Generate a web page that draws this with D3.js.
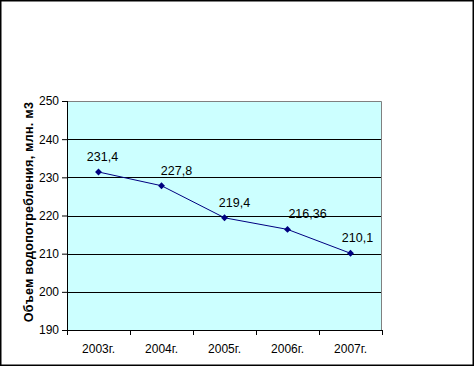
<!DOCTYPE html>
<html>
<head>
<meta charset="utf-8">
<script src="https://cdn.jsdelivr.net/npm/d3@7"></script>
<style>
  body { margin: 0; background: #fff; }
  text { font-family: "Liberation Sans", Arial, sans-serif; }
</style>
</head>
<body>
<div id="chart"></div>
<script>
// data
const years = ["2003г.", "2004г.", "2005г.", "2006г.", "2007г."];
const values = [231.4, 227.8, 219.4, 216.36, 210.1];
const valueLabels = ["231,4", "227,8", "219,4", "216,36", "210,1"];
const yTicks = [190, 200, 210, 220, 230, 240, 250];
// label nudges as placed in the original
const labelDx = [4, 15, 10, 20, 7];

const svgWidth = 474;
const svgHeight = 366;

const margin = { top: 101, right: 92, bottom: 36, left: 67 };
const width = svgWidth - margin.left - margin.right;
const height = svgHeight - margin.top - margin.bottom;

const svg = d3.select("#chart")
  .append("svg")
  .attr("width", svgWidth)
  .attr("height", svgHeight);

// outer frame
svg.append("rect")
  .attr("x", 0.75).attr("y", 0.75)
  .attr("width", svgWidth - 1.5).attr("height", svgHeight - 1.5)
  .attr("fill", "#fff")
  .attr("stroke", "#000")
  .attr("stroke-width", 1.5);

const chartGroup = svg.append("g")
  .attr("transform", `translate(${margin.left}, ${margin.top})`);

const xScale = d3.scaleBand()
  .domain(years)
  .range([0, width]);

const yScale = d3.scaleLinear()
  .domain([190, 250])
  .range([height, 0]);

// plot area
chartGroup.append("rect")
  .attr("width", width)
  .attr("height", height)
  .attr("fill", "#ccffff");

// gridlines
chartGroup.selectAll(".grid")
  .data(yTicks.slice(1, -1))
  .enter()
  .append("line")
  .attr("x1", 0).attr("x2", width)
  .attr("y1", d => Math.round(yScale(d)) + 0.5)
  .attr("y2", d => Math.round(yScale(d)) + 0.5)
  .attr("stroke", "#000")
  .attr("stroke-width", 1);

// top and right border in gray
chartGroup.append("path")
  .attr("d", `M0,0.5H${width - 0.5}V${height}`)
  .attr("fill", "none")
  .attr("stroke", "#808080")
  .attr("stroke-width", 1);

// axes
const leftAxis = d3.axisLeft(yScale)
  .tickValues(yTicks)
  .tickSize(5)
  .tickPadding(3);

const yAxisG = chartGroup.append("g").call(leftAxis);
yAxisG.select(".domain").attr("stroke", "#000").attr("d", `M0.5,0V${height}`);
yAxisG.selectAll("text").style("font-size", "12px").attr("fill", "#000");

const bottomAxis = d3.axisBottom(xScale).tickSize(0).tickPadding(14);
const xAxisG = chartGroup.append("g")
  .attr("transform", `translate(0, ${height})`)
  .call(bottomAxis);
xAxisG.select(".domain").attr("stroke", "#000");
xAxisG.selectAll("text").style("font-size", "12px").attr("fill", "#000");

// category boundary ticks
chartGroup.selectAll(".xtick")
  .data(years.concat([null]))
  .enter()
  .append("line")
  .attr("x1", (d, i) => Math.round(i * xScale.step()) + 0.5)
  .attr("x2", (d, i) => Math.round(i * xScale.step()) + 0.5)
  .attr("y1", height)
  .attr("y2", height + 5)
  .attr("stroke", "#000");

// line
const line = d3.line()
  .x((d, i) => xScale(years[i]) + xScale.bandwidth() / 2)
  .y(d => yScale(d));

chartGroup.append("path")
  .datum(values)
  .attr("d", line)
  .attr("fill", "none")
  .attr("stroke", "#000080")
  .attr("stroke-width", 1);

// diamond markers
chartGroup.selectAll(".marker")
  .data(values)
  .enter()
  .append("path")
  .attr("d", d3.symbol().type(d3.symbolDiamond2).size(30))
  .attr("transform", (d, i) => `translate(${xScale(years[i]) + xScale.bandwidth() / 2}, ${yScale(d)})`)
  .attr("fill", "#000080");

// value labels
chartGroup.selectAll(".vlabel")
  .data(values)
  .enter()
  .append("text")
  .attr("x", (d, i) => xScale(years[i]) + xScale.bandwidth() / 2 + labelDx[i])
  .attr("y", d => yScale(d) - 11)
  .attr("text-anchor", "middle")
  .style("font-size", "12.5px")
  .text((d, i) => valueLabels[i]);

// y axis title
svg.append("text")
  .attr("transform", `translate(33, 212) rotate(-90)`)
  .attr("text-anchor", "middle")
  .style("font-size", "12.5px")
  .style("font-weight", "bold")
  .style("letter-spacing", "0.3px")
  .text("Объем водопотребления, млн. м3");
</script>
</body>
</html>
